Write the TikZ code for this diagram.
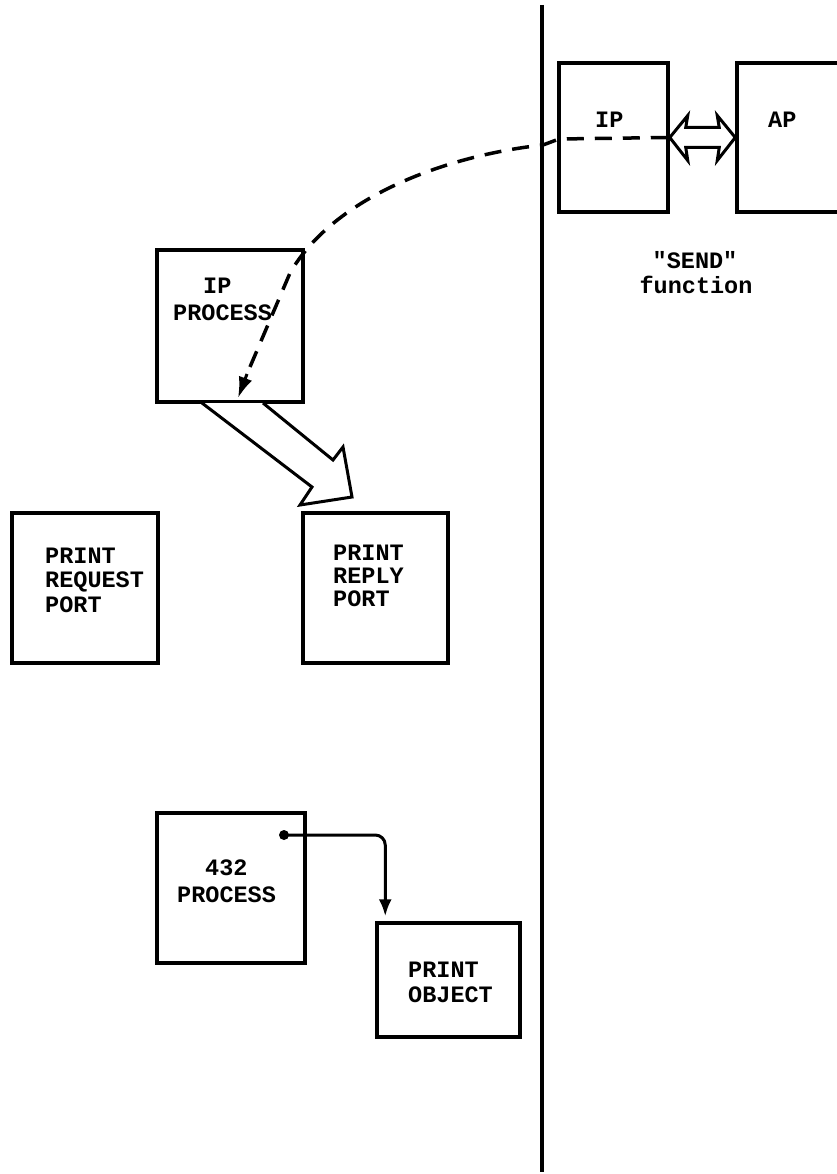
\documentclass[tikz,border=0pt]{standalone}
\usepackage{fontspec}
\setmainfont{Liberation Mono}[Ligatures=TeXOff]
\usetikzlibrary{arrows.meta,calc}
\tikzset{
  box/.style={draw, rectangle, line width=3.5pt, inner sep=0pt},
  txt/.style={inner sep=0pt, anchor=base west, font=\fontsize{23.5}{25}\selectfont\bfseries},
  ctxt/.style={inner sep=0pt, anchor=base, font=\fontsize{23.5}{25}\selectfont\bfseries},
  dashline/.style={line width=3.5pt, dash pattern=on 17pt off 11pt},
  hollow/.style={draw, line width=3pt, line join=miter, fill=white},
}
\begin{document}
\begin{tikzpicture}[x=1pt,y=-1pt]
\useasboundingbox[fill=white] (0,0) rectangle (837,1174);

% divider
\draw[line width=4pt] (542,5) coordinate (vtop) -- (542,1172) coordinate (vbot);

% boxes
\node[box, minimum width=109pt, minimum height=149pt] (ipR) at (613.5,137.5) {};
\node[box, minimum width=112pt, minimum height=149pt] (ap) at (793,137.5) {};
\node[box, minimum width=146pt, minimum height=152pt] (ipp) at (230,326) {};
\node[box, minimum width=146pt, minimum height=150pt] (req) at (85,588) {};
\node[box, minimum width=145pt, minimum height=150pt] (rep) at (375.5,588) {};
\node[box, minimum width=148pt, minimum height=150pt] (p432) at (231,888) {};
\node[box, minimum width=143pt, minimum height=114pt] (obj) at (448.5,980) {};

% texts
\node[txt] (tIP) at (595,128) {IP};
\node[txt] (tAP) at (768,128) {AP};
\node[ctxt] (tSend) at (695,268) {"SEND"};
\node[ctxt] (tFunc) at (696,293) {function};
\node[txt] (tipp1) at (203,293) {IP};
\node[txt] (tipp2) at (173,320) {PROCESS};
\node[txt] (treq1) at (45,563) {PRINT};
\node[txt] (treq2) at (45,587) {REQUEST};
\node[txt] (treq3) at (45,612) {PORT};
\node[txt] (trep1) at (333,560) {PRINT};
\node[txt] (trep2) at (333,583) {REPLY};
\node[txt] (trep3) at (333,606) {PORT};
\node[txt] (t4321) at (205,875) {432};
\node[txt] (t4322) at (177,902) {PROCESS};
\node[txt] (tobj1) at (408,977) {PRINT};
\node[txt] (tobj2) at (408,1002) {OBJECT};

% hollow double arrow IP <-> AP
\coordinate (dl) at (ipR.east);
\coordinate (dr) at (ap.west);
\draw[hollow] (dl) -- ($(dl)+(18,-22)$) -- ($(dl)+(16,-10)$) -- ($(dr)+(-16,-10)$)
  -- ($(dr)+(-18,-22)$) -- (dr) -- ($(dr)+(-18,23)$) -- ($(dr)+(-16,10)$)
  -- ($(dl)+(16,10)$) -- ($(dl)+(18,23)$) -- cycle;

% dashed "send" path
\coordinate (cross) at (543,145);
\coordinate (bend) at (290,273);
\coordinate (dend) at (238,398);
\draw[dashline] ($(ipR.east)+(-2,0)$) -- (559,139) -- (cross)
  .. controls (450,155) and (335,195) .. (bend) -- ($(dend)+(9,-24)$);
\draw[line width=3pt, -{Latex[length=21pt,width=14pt]}] ($(dend)+(9,-24)$) -- (dend);

% hollow wide arrow IP PROCESS -> PRINT REPLY PORT
\draw[hollow] (202,403) -- (312,487) -- (300,505) -- (352,497) -- (343,447) -- (333,460) -- (263,403);

% 432 PROCESS -> PRINT OBJECT
\coordinate (dot) at (284,835);
\fill (dot) circle (5pt);
\draw[line width=3pt, rounded corners=10pt, -{Latex[length=17pt,width=13pt]}, shorten >=5pt]
  (dot) -| ($(obj.north west)+(10,0)$);
\end{tikzpicture}
\end{document}
